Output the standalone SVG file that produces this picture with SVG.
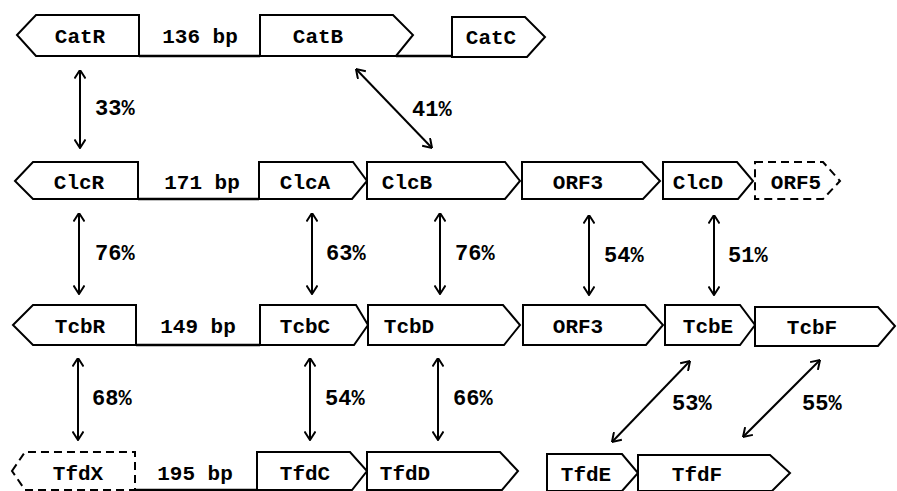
<svg xmlns="http://www.w3.org/2000/svg" width="897" height="491" viewBox="0 0 897 491">
<style>
.g{fill:#fff;stroke:#000;stroke-width:2;stroke-linejoin:miter}
.d{stroke-dasharray:8,5}
.b{stroke:#000;stroke-width:2.5;fill:none}
.t{font-family:"Liberation Mono","Courier New",monospace;font-size:21px;font-weight:bold;text-anchor:middle;fill:#000}
.p{font-family:"Liberation Mono","Courier New",monospace;font-size:22px;font-weight:bold;fill:#000}
.a{stroke:#000;stroke-width:2;fill:none;marker-start:url(#h);marker-end:url(#h)}
</style>
<defs>
<marker id="h" viewBox="0 0 10 12" refX="9.5" refY="6" markerWidth="10" markerHeight="12" markerUnits="userSpaceOnUse" orient="auto-start-reverse">
<path d="M1,0.5 L9.5,6 L1,11.5" fill="none" stroke="#000" stroke-width="2"/>
</marker>
</defs>
<g id="baselines">
<line class="b" x1="139" y1="56" x2="260" y2="56"/>
<line class="b" x1="396" y1="56" x2="452" y2="56"/>
<line class="b" x1="138" y1="199" x2="259" y2="199"/>
<line class="b" x1="136" y1="345" x2="260" y2="345"/>
<line class="b" x1="135" y1="490" x2="257" y2="490"/>
</g>
<g id="CatR"><polygon class="g" points="17,35 36,15 139,15 139,56 36,56"/><text class="t" x="80" y="43">CatR</text></g>
<g id="bp136"><text class="t" x="200" y="43">136 bp</text></g>
<g id="CatB"><polygon class="g" points="260,15 393,15 413,35 396,56 260,56"/><text class="t" x="318" y="43">CatB</text></g>
<g id="CatC"><polygon class="g" points="452,17 525,17 545,37 527,57 452,57"/><text class="t" x="491" y="44">CatC</text></g>

<g id="ClcR"><polygon class="g" points="15,181 33,162 138,162 138,199 33,199"/><text class="t" x="79" y="189">ClcR</text></g>
<g id="bp171"><text class="t" x="202" y="189">171 bp</text></g>
<g id="ClcA"><polygon class="g" points="259,162 353,162 367,181 352,199 259,199"/><text class="t" x="305" y="189">ClcA</text></g>
<g id="ClcB"><polygon class="g" points="367,162 505,162 520,181 505,199 367,199"/><text class="t" x="407" y="189">ClcB</text></g>
<g id="ORF3a"><polygon class="g" points="522,162 642,162 660,181 643,199 522,199"/><text class="t" x="578" y="189">ORF3</text></g>
<g id="ClcD"><polygon class="g" points="663,162 737,162 753,181 738,199 663,199"/><text class="t" x="698" y="189">ClcD</text></g>
<g id="ORF5"><polygon class="g d" points="755,162 823,162 840,181 823,199 755,199"/><text class="t" x="796" y="189">ORF5</text></g>

<g id="TcbR"><polygon class="g" points="13,325 33,305 136,305 136,345 33,345"/><text class="t" x="80" y="333">TcbR</text></g>
<g id="bp149"><text class="t" x="198" y="333">149 bp</text></g>
<g id="TcbC"><polygon class="g" points="260,305 356,305 368,325 354,345 260,345"/><text class="t" x="305" y="333">TcbC</text></g>
<g id="TcbD"><polygon class="g" points="368,305 503,305 520,325 504,345 368,345"/><text class="t" x="409" y="333">TcbD</text></g>
<g id="ORF3b"><polygon class="g" points="523,305 645,305 663,325 646,345 523,345"/><text class="t" x="578" y="333">ORF3</text></g>
<g id="TcbE"><polygon class="g" points="665,305 740,305 755,325 740,345 665,345"/><text class="t" x="708" y="333">TcbE</text></g>
<g id="TcbF"><polygon class="g" points="755,307 878,307 895,326 878,346 755,346"/><text class="t" x="812" y="334">TcbF</text></g>

<g id="TfdX"><polygon class="g d" points="12,471 25,452 135,452 135,490 25,490"/><text class="t" x="78" y="480">TfdX</text></g>
<g id="bp195"><text class="t" x="195" y="480">195 bp</text></g>
<g id="TfdC"><polygon class="g" points="257,452 350,452 367,471 352,490 257,490"/><text class="t" x="305" y="480">TfdC</text></g>
<g id="TfdD"><polygon class="g" points="367,452 500,452 518,471 502,490 367,490"/><text class="t" x="405" y="480">TfdD</text></g>
<g id="TfdE"><polygon class="g" points="547,454 622,454 638,473 622,491 547,491"/><text class="t" x="586" y="481">TfdE</text></g>
<g id="TfdF"><polygon class="g" points="638,455 770,455 790,473 772,491 638,491"/><text class="t" x="697" y="481">TfdF</text></g>

<g id="connectors">
<line class="a" x1="80" y1="70" x2="80" y2="148"/>
<line class="a" x1="356" y1="69" x2="432" y2="148"/>
<line class="a" x1="79" y1="213" x2="79" y2="294"/>
<line class="a" x1="312" y1="213" x2="312" y2="294"/>
<line class="a" x1="440" y1="213" x2="440" y2="294"/>
<line class="a" x1="589" y1="215" x2="589" y2="295"/>
<line class="a" x1="714" y1="215" x2="714" y2="295"/>
<line class="a" x1="78" y1="358" x2="78" y2="440"/>
<line class="a" x1="310" y1="358" x2="310" y2="440"/>
<line class="a" x1="438" y1="358" x2="438" y2="440"/>
<line class="a" x1="690" y1="361" x2="612" y2="442"/>
<line class="a" x1="820" y1="360" x2="743" y2="437"/>
</g>
<g id="labels">
<text class="p" x="95" y="115">33%</text>
<text class="p" x="412" y="116">41%</text>
<text class="p" x="95" y="260">76%</text>
<text class="p" x="326" y="260">63%</text>
<text class="p" x="455" y="260">76%</text>
<text class="p" x="604" y="262">54%</text>
<text class="p" x="728" y="262">51%</text>
<text class="p" x="92" y="405">68%</text>
<text class="p" x="325" y="405">54%</text>
<text class="p" x="453" y="405">66%</text>
<text class="p" x="672" y="410">53%</text>
<text class="p" x="802" y="410">55%</text>
</g>
</svg>
